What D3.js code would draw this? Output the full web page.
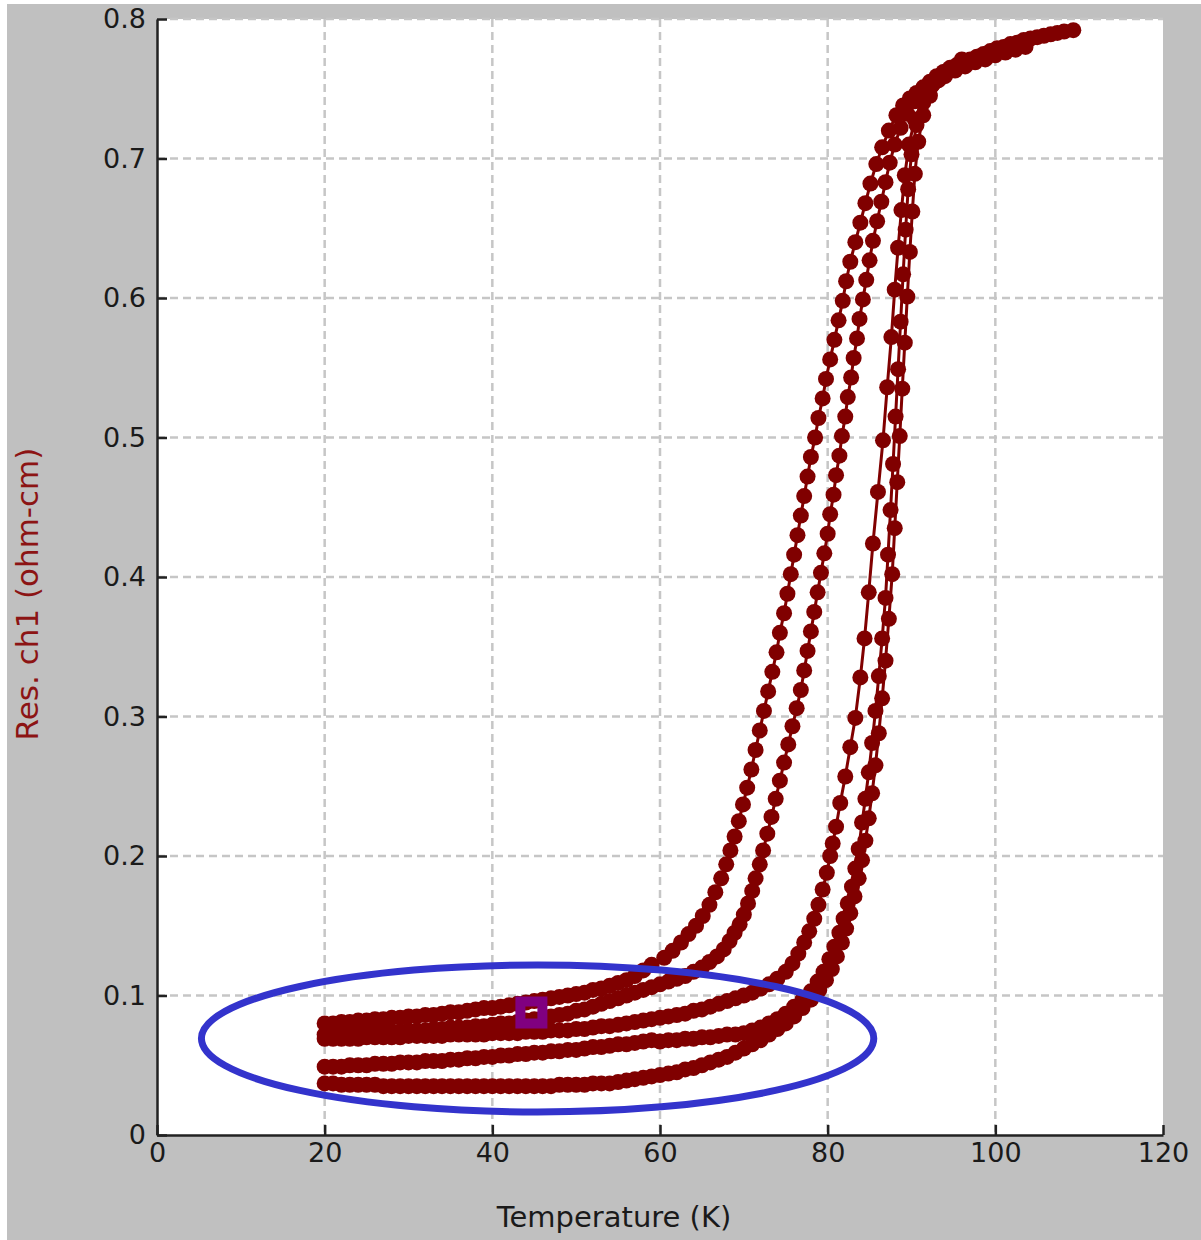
<!DOCTYPE html>
<html>
<head>
<meta charset="utf-8">
<script src="https://cdn.jsdelivr.net/npm/d3@7"></script>
<style>
  body { margin: 0; background: #fff; }
  .tick text { font-family: "DejaVu Sans", sans-serif; font-size: 27px; fill: #1a1a1a; }
  .axisText { font-family: "DejaVu Sans", sans-serif; }
</style>
</head>
<body>
<div id="chart"></div>
<script>
// tick labels
var xTicks = [0, 20, 40, 60, 80, 100, 120];
var yTicks = [0, 0.1, 0.2, 0.3, 0.4, 0.5, 0.6, 0.7, 0.8];

// branch A - first cooling (leftmost)
var tempA = [20,21,22,23,24,25,26,27,28,29,30,31,32,33,34,35,36,37,38,39,40,41,42,43,44,45,46,47,48,49,50,51,52,53,54,55,56,57,58,59,
  60.5,61.5,62.5,63.4,64.3,65.1,65.9,66.6,67.3,67.9,68.4,68.9,69.4,69.9,70.4,70.9,71.4,71.9,72.4,72.9,73.4,73.9,74.3,74.8,75.2,
  75.6,76.0,76.4,76.8,77.2,77.6,78.0,78.5,78.9,79.4,79.8,80.3,80.8,81.3,81.8,82.2,82.7,83.3,83.9,84.5,85.1,85.8,86.5,87.3,88.2,
  89.0,89.8,90.6,91.4,92.2,93.0,93.8,94.6,95.4,96.2,97.0,97.8,98.6,99.4,100.2,101.0,101.8,102.6,103.4,104.2,105.0,105.8,106.6,107.4,108.2,109.3];
var resA = [.080,.080,.081,.081,.082,.082,.083,.083,.084,.084,.085,.085,.086,.086,.087,.088,.088,.089,.090,.091,.091,.092,.093,.094,.095,.096,.097,.098,.099,.100,.101,.102,.104,.105,.107,.109,.111,.114,.118,.122,
  .127,.132,.138,.144,.150,.157,.165,.174,.184,.194,.204,.214,.225,.237,.249,.262,.276,.290,.304,.318,.332,.346,.360,.374,.388,
  .402,.416,.430,.444,.458,.472,.486,.500,.514,.528,.542,.556,.570,.584,.598,.612,.626,.640,.654,.668,.682,.696,.708,.720,.731,
  .738,.743,.747,.751,.755,.759,.762,.765,.767,.769,.771,.773,.775,.777,.779,.780,.782,.783,.785,.786,.787,.788,.789,.790,.791,.792];

// branch B - second cooling
var tempB = [20,21,22,23,24,25,26,27,28,29,30,31,32,33,34,35,36,37,38,39,40,41,42,43,44,45,46,47,48,49,50,51,52,53,54,55,56,57,58,59,60,61,62,63,64,65,
  65.9,66.8,67.6,68.3,68.9,69.5,70.0,70.5,71.0,71.4,71.9,72.3,72.8,73.3,73.8,74.3,74.8,75.3,75.8,76.3,76.8,77.2,77.6,78.0,78.4,78.8,
  79.2,79.6,80.0,80.3,80.7,81.0,81.4,81.7,82.1,82.4,82.8,83.1,83.5,83.8,84.2,84.6,85.0,85.4,85.9,86.4,86.9,87.4,88.0,88.7,89.5,90.4,
  91.5,92.8,94.0,95.2,96.4,97.6,98.8,100.0,101.2,102.4,103.6];
var resB = [.072,.072,.072,.073,.073,.073,.073,.074,.074,.074,.075,.075,.075,.076,.076,.077,.077,.077,.078,.078,.079,.080,.080,.081,.082,.083,.084,.085,.086,.087,.089,.090,.092,.094,.096,.098,.100,.102,.104,.106,.108,.110,.112,.114,.117,.120,
  .124,.128,.133,.139,.145,.151,.158,.166,.175,.184,.194,.204,.216,.228,.241,.254,.267,.280,.293,.306,.319,.333,.347,.361,.375,.389,
  .403,.417,.431,.445,.459,.473,.487,.501,.515,.529,.543,.557,.571,.585,.599,.613,.627,.641,.655,.669,.683,.697,.710,.722,.732,.741,
  .749,.755,.759,.763,.766,.769,.771,.774,.776,.778,.780];

// branch C - first warming
var tempC = [20,21,22,23,24,25,26,27,28,29,30,31,32,33,34,35,36,37,38,39,40,41,42,43,44,45,46,47,48,49,50,51,52,53,54,55,56,57,58,59,
  60,61,62,63,64,65,66,67,68,69,70,71,72,73,74,75,75.8,76.5,77.2,77.8,78.4,78.9,79.4,79.9,80.3,
  80.6,81.0,81.5,82.1,82.7,83.3,83.9,84.4,84.9,85.4,86.0,86.6,87.1,87.6,88.0,88.4,88.8,89.2,89.7,90.4,91.3,92.5,94.0];
var resC = [.069,.069,.069,.069,.069,.070,.070,.070,.070,.070,.071,.071,.071,.071,.071,.072,.072,.072,.072,.072,.073,.073,.073,.073,.074,.074,.074,.075,.075,.075,.076,.076,.077,.078,.078,.079,.080,.081,.082,.083,
  .084,.085,.086,.087,.089,.090,.092,.094,.096,.098,.100,.102,.105,.108,.112,.117,.123,.130,.138,.146,.155,.165,.176,.188,.200,
  .209,.221,.238,.257,.278,.299,.328,.356,.389,.424,.461,.498,.536,.572,.606,.636,.663,.688,.710,.728,.742,.753,.762];

// branch D - second warming (rightmost)
var tempD = [20,21,22,23,24,25,26,27,28,29,30,31,32,33,34,35,36,37,38,39,40,41,42,43,44,45,46,47,48,49,50,51,52,53,54,55,56,57,58,59,
  60,61,62,63,64,65,66,67,68,69,70,71,72,73,74,75,76,77,78,79,79.8,80.5,81.1,81.7,82.2,82.7,83.2,83.7,84.1,84.5,84.9,85.3,85.7,
  86.1,86.5,86.9,87.3,87.7,88.0,88.3,88.6,88.9,89.2,89.5,89.8,90.1,90.4,90.8,91.4,92.2,93.2,94.5,96];
var resD = [.037,.037,.036,.036,.036,.036,.036,.035,.035,.035,.035,.035,.035,.035,.035,.035,.035,.035,.035,.035,.035,.035,.035,.035,.035,.035,.035,.035,.036,.036,.036,.036,.037,.037,.037,.038,.039,.040,.041,.042,
  .043,.044,.045,.047,.048,.050,.052,.054,.056,.059,.062,.065,.068,.072,.076,.080,.085,.091,.097,.104,.111,.119,.128,.138,.148,.159,.171,.184,.197,.211,.227,.245,.265,
  .288,.313,.340,.370,.402,.435,.468,.501,.535,.568,.601,.633,.662,.689,.712,.731,.745,.756,.764,.771];

// branch E - third warming (joins D)
var tempE = [20,21,22,23,24,25,26,27,28,29,30,31,32,33,34,35,36,37,38,39,40,41,42,43,44,45,46,47,48,49,50,51,52,53,54,55,56,57,58,59,
  60,61,62,63,64,65,66,67,68,69,70,71,72,73,74,75,76,77,78,78.8,79.5,80.2,80.8,81.4,81.9,82.4,82.9,83.3,83.7,84.1,84.5,84.9,85.3,
  85.7,86.1,86.5,86.9,87.2,87.5,87.8,88.1,88.4,88.7,89.0,89.3,89.6,90.0,90.6,91.4,92.4];
var resE = [.049,.049,.049,.050,.050,.050,.051,.051,.051,.052,.052,.052,.053,.053,.053,.054,.054,.055,.055,.056,.056,.057,.057,.058,.058,.059,.059,.060,.060,.061,.061,.062,.063,.063,.064,.065,.065,.066,.067,.068,
  .067,.068,.068,.069,.069,.070,.070,.071,.072,.072,.073,.075,.077,.080,.083,.087,.092,.097,.103,.110,.117,.126,.135,.145,.155,.166,.178,.191,.205,.224,.241,.260,.281,
  .304,.329,.356,.385,.416,.448,.481,.515,.549,.583,.617,.649,.678,.703,.724,.740,.752];

// annotation marks: ellipse (centre T, centre R, half width in K, half height in ohm-cm) and cursor square
var ellipseMark = [45.4, 0.0692, 40.1, 0.0527];
var cursorMark = [44.66, 0.0878];

var svgWidth = 1201;
var svgHeight = 1240;

var chartMargin = {
  top: 19,
  right: 38,
  bottom: 105,
  left: 157
};

var chartWidth = svgWidth - chartMargin.left - chartMargin.right;
var chartHeight = svgHeight - chartMargin.top - chartMargin.bottom;

var dataColor = "#800000";

var svg = d3.select("#chart")
  .append("svg")
  .attr("width", svgWidth)
  .attr("height", svgHeight);

// grey figure background
svg.append("rect")
  .attr("x", 7)
  .attr("y", 4)
  .attr("width", svgWidth - 7)
  .attr("height", svgHeight - 4)
  .attr("fill", "#c0c0c0");

var chartGroup = svg.append("g")
  .attr("transform", `translate(${chartMargin.left}, ${chartMargin.top})`);

chartGroup.append("rect")
  .attr("width", chartWidth)
  .attr("height", chartHeight)
  .attr("fill", "#fff");

var xLinearScale = d3.scaleLinear()
  .domain([0, 120])
  .range([0, chartWidth]);

var yLinearScale = d3.scaleLinear()
  .domain([0, 0.8])
  .range([chartHeight, 0]);

// dashed grid
chartGroup.append("g")
  .selectAll("line")
  .data(xTicks.slice(1, -1))
  .enter()
  .append("line")
  .attr("x1", d => xLinearScale(d))
  .attr("x2", d => xLinearScale(d))
  .attr("y1", 0)
  .attr("y2", chartHeight)
  .attr("stroke", "#c6c6c6")
  .attr("stroke-width", 2.5)
  .attr("stroke-dasharray", "8,5");

chartGroup.append("g")
  .selectAll("line")
  .data(yTicks.slice(1))
  .enter()
  .append("line")
  .attr("x1", 0)
  .attr("x2", chartWidth)
  .attr("y1", d => yLinearScale(d))
  .attr("y2", d => yLinearScale(d))
  .attr("stroke", "#c6c6c6")
  .attr("stroke-width", 2.5)
  .attr("stroke-dasharray", "8,5");

// data branches
var branches = [
  [tempA, resA],
  [tempB, resB],
  [tempC, resC],
  [tempD, resD],
  [tempE, resE]
].map(b => b[0].map((t, i) => ({ temp: t, res: b[1][i] })));

var line = d3.line()
  .x(d => xLinearScale(d.temp))
  .y(d => yLinearScale(d.res));

branches.forEach(function(branch) {
  chartGroup.append("path")
    .datum(branch)
    .attr("d", line)
    .attr("fill", "none")
    .attr("stroke", dataColor)
    .attr("stroke-width", 3);
});

branches.forEach(function(branch) {
  chartGroup.append("g")
    .selectAll("circle")
    .data(branch)
    .enter()
    .append("circle")
    .attr("cx", d => xLinearScale(d.temp))
    .attr("cy", d => yLinearScale(d.res))
    .attr("r", 8)
    .attr("fill", dataColor);
});

// axes
var bottomAxis = d3.axisBottom(xLinearScale)
  .tickValues(xTicks)
  .tickSizeInner(-10)
  .tickSizeOuter(0)
  .tickPadding(8);

var leftAxis = d3.axisLeft(yLinearScale)
  .tickValues(yTicks)
  .tickSizeInner(-10)
  .tickSizeOuter(0)
  .tickPadding(11)
  .tickFormat(d => d === 0 ? "0" : d3.format(".1f")(d));

var xAxisG = chartGroup.append("g")
  .attr("transform", `translate(0, ${chartHeight})`)
  .call(bottomAxis);

var yAxisG = chartGroup.append("g")
  .call(leftAxis);

[xAxisG, yAxisG].forEach(function(g) {
  g.select(".domain").attr("stroke", "#222").attr("stroke-width", 2.5);
  g.selectAll(".tick line").attr("stroke", "#222").attr("stroke-width", 2.5);
});

// annotations drawn over the data
chartGroup.append("ellipse")
  .attr("cx", xLinearScale(ellipseMark[0]))
  .attr("cy", yLinearScale(ellipseMark[1]))
  .attr("rx", xLinearScale(ellipseMark[2]) - xLinearScale(0))
  .attr("ry", yLinearScale(0) - yLinearScale(ellipseMark[3]))
  .attr("fill", "none")
  .attr("stroke", "#3333cc")
  .attr("stroke-width", 7);

chartGroup.append("rect")
  .attr("x", xLinearScale(cursorMark[0]) - 11)
  .attr("y", yLinearScale(cursorMark[1]) - 11)
  .attr("width", 22)
  .attr("height", 22)
  .attr("fill", "none")
  .attr("stroke", "#800080")
  .attr("stroke-width", 10);

// axes labels
chartGroup.append("text")
  .attr("transform", "rotate(-90)")
  .attr("x", 0 - (594 - chartMargin.top))
  .attr("y", 27 - chartMargin.left)
  .attr("dy", "0.35em")
  .attr("text-anchor", "middle")
  .attr("class", "axisText")
  .style("font-size", "31px")
  .attr("fill", "#8c1414")
  .text("Res. ch1 (ohm-cm)");

chartGroup.append("text")
  .attr("x", 614 - chartMargin.left)
  .attr("y", 1217 - chartMargin.top)
  .attr("dy", "0.35em")
  .attr("text-anchor", "middle")
  .attr("class", "axisText")
  .style("font-size", "29px")
  .attr("fill", "#1a1a1a")
  .text("Temperature (K)");
</script>
</body>
</html>
